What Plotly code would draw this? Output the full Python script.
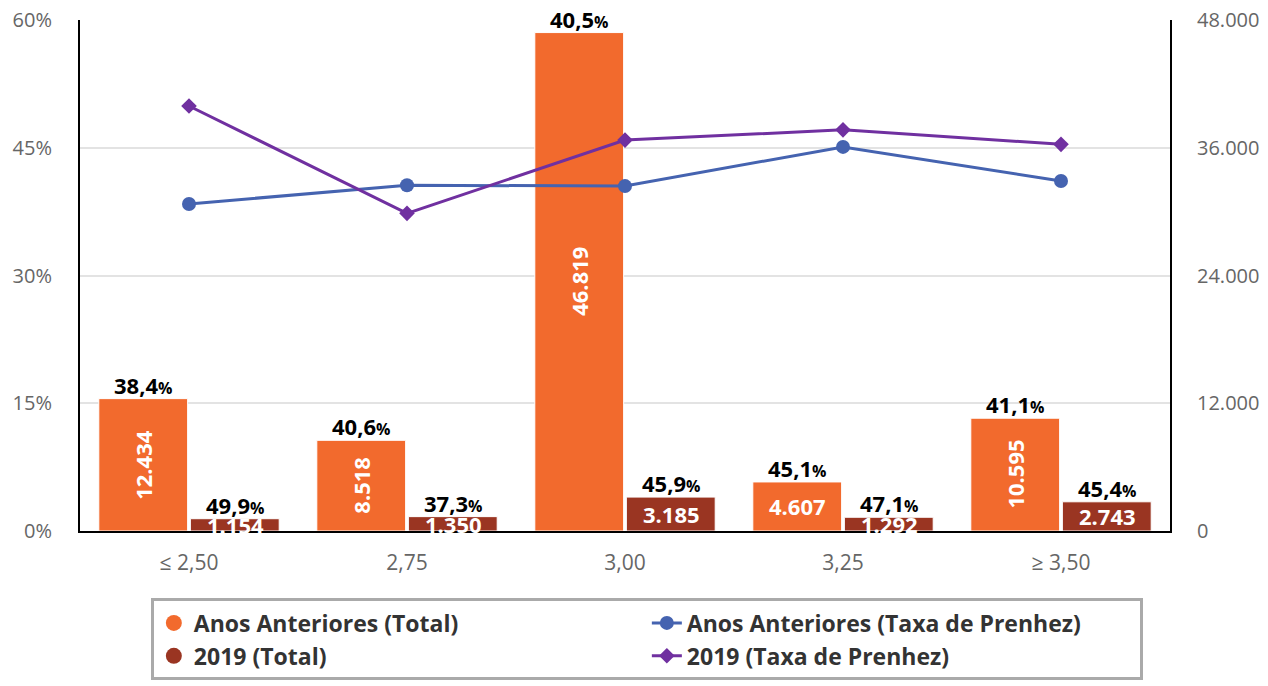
import plotly.graph_objects as go

categories = ["≤ 2,50", "2,75", "3,00", "3,25", "≥ 3,50"]
total_anteriores = [12434, 8518, 46819, 4607, 10595]
total_2019 = [1154, 1350, 3185, 1292, 2743]
taxa_anteriores = [38.4, 40.6, 40.5, 45.1, 41.1]
taxa_2019 = [49.9, 37.3, 45.9, 47.1, 45.4]
rotated_anteriores = [True, True, True, False, True]
pct_ticks = [0, 15, 30, 45, 60]
count_ticks = [0, 12000, 24000, 36000, 48000]

C_ORANGE = "#F26A2D"
C_BROWN = "#9A3522"
C_BLUE = "#4563B0"
C_PURPLE = "#7030A0"
FONT = "Open Sans"

def fmt_int(v):
    return f"{v:,}".replace(",", ".")

def fmt_pct(v):
    return f"{v:.1f}".replace(".", ",")

fig = go.Figure()

fig.add_trace(go.Bar(x=categories, y=total_anteriores, name="Anos Anteriores (Total)",
                     marker=dict(color=C_ORANGE, line=dict(color="white", width=1)),
                     offsetgroup="a", showlegend=False, yaxis="y"))
fig.add_trace(go.Bar(x=categories, y=total_2019, name="2019 (Total)",
                     marker=dict(color=C_BROWN, line=dict(color="white", width=1)),
                     offsetgroup="b", showlegend=False, yaxis="y"))

fig.add_trace(go.Scatter(x=categories, y=taxa_anteriores, name="Anos Anteriores (Taxa de Prenhez)",
                         mode="lines+markers", yaxis="y2",
                         line=dict(color=C_BLUE, width=3),
                         marker=dict(symbol="circle", size=14, color=C_BLUE),
                         legendrank=2))
fig.add_trace(go.Scatter(x=categories, y=taxa_2019, name="2019 (Taxa de Prenhez)",
                         mode="lines+markers", yaxis="y2",
                         line=dict(color=C_PURPLE, width=3),
                         marker=dict(symbol="diamond", size=12, color=C_PURPLE),
                         legendrank=4))
# legend-only entries for bars (circle swatches)
fig.add_trace(go.Scatter(x=[None], y=[None], mode="markers", name="Anos Anteriores (Total)",
                         marker=dict(symbol="circle", size=20, color=C_ORANGE), yaxis="y2",
                         legendrank=1))
fig.add_trace(go.Scatter(x=[None], y=[None], mode="markers", name="2019 (Total)",
                         marker=dict(symbol="circle", size=20, color=C_BROWN), yaxis="y2",
                         legendrank=3))

annotations = []
SH = 46
for i, cat in enumerate(categories):
    for vals, taxas, shift in [(total_anteriores, taxa_anteriores, -SH), (total_2019, taxa_2019, SH)]:
        annotations.append(dict(
            x=cat, y=vals[i], xref="x", yref="y", xshift=shift, yanchor="bottom", yshift=-3,
            showarrow=False,
            text=f"<b>{fmt_pct(taxas[i])}</b><b><span style='font-size:16px'>%</span></b>",
            font=dict(family=FONT, size=22, color="black")))
    annotations.append(dict(
        x=cat, y=total_anteriores[i] / 2, xref="x", yref="y", xshift=-SH,
        showarrow=False, textangle=-90 if rotated_anteriores[i] else 0,
        text=f"<b>{fmt_int(total_anteriores[i])}</b>",
        font=dict(family=FONT, size=22, color="white")))
    annotations.append(dict(
        x=cat, y=total_2019[i] / 2, xref="x", yref="y", xshift=SH,
        showarrow=False,
        text=f"<b>{fmt_int(total_2019[i])}</b>",
        font=dict(family=FONT, size=22, color="white")))

ytickfont = dict(family=FONT, size=20, color="#666666")
xtickfont = dict(family=FONT, size=21, color="#666666")

# The page body has an 8px margin, so the figure is sized and offset to match.
fig.update_layout(
    width=1260, height=678,
    margin=dict(l=72, r=98, t=12, b=155, autoexpand=False),
    paper_bgcolor="white", plot_bgcolor="white",
    separators=",.",
    barmode="group", bargap=0.16, bargroupgap=0.03,
    font=dict(family=FONT, size=17, color="#666666"),
    xaxis=dict(type="category", showline=True, linecolor="black", linewidth=2,
               showgrid=False, ticks="", ticklabelstandoff=12, automargin=False,
               tickfont=xtickfont),
    yaxis=dict(side="right", range=[0, 48000], tickmode="array", tickvals=count_ticks,
               ticktext=[fmt_int(v) for v in count_ticks],
               showline=True, linecolor="black", linewidth=2,
               gridcolor="#e3e3e3", gridwidth=2, zeroline=False, ticks="",
               ticklabelstandoff=21, automargin=False, ticklabeloverflow="allow",
               tickfont=ytickfont),
    yaxis2=dict(side="left", overlaying="y", range=[0, 60], tickmode="array",
                tickvals=pct_ticks, ticktext=[f"{v}%" for v in pct_ticks],
                showline=True, linecolor="black", linewidth=2,
                showgrid=False, zeroline=False, ticks="", ticklabelstandoff=22,
                automargin=False, ticklabeloverflow="allow", tickfont=ytickfont),
    legend=dict(orientation="h", x=0.065, y=-0.132, xanchor="left", yanchor="top",
                bordercolor="#aaaaaa", borderwidth=3, bgcolor="white",
                entrywidth=448, traceorder="normal", itemsizing="trace",
                font=dict(family=FONT, size=23, color="#333333", weight="bold"),
                tracegroupgap=0),
    annotations=annotations,
)

fig.write_html("out.html")
